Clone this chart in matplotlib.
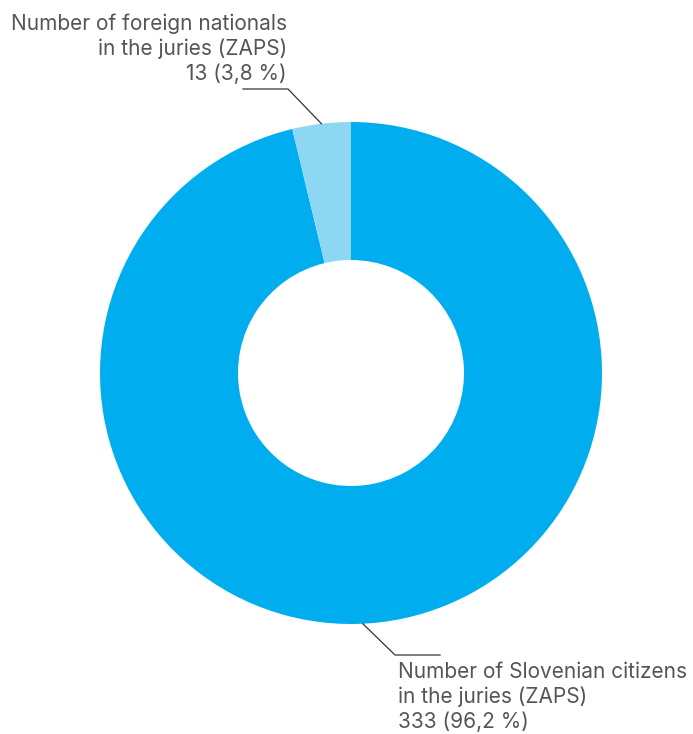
import numpy as np
import matplotlib.pyplot as plt

labels = ["Number of Slovenian citizens\nin the juries (ZAPS)",
          "Number of foreign nationals\nin the juries (ZAPS)"]
counts = [333, 13]
shares = ["96,2 %", "3,8 %"]
colors = ["#00AEEF", "#8DD7F3"]

W, H = 693, 734
fig = plt.figure(figsize=(W / 100, H / 100), dpi=100)
cx, cy, R = 351, 373, 251
ax = fig.add_axes([(cx - R) / W, (H - cy - R) / H, 2 * R / W, 2 * R / H])
ax.pie(counts, colors=colors, startangle=90, counterclock=False, radius=1,
       wedgeprops=dict(width=1 - 113 / 251, linewidth=0))
ax.set_xlim(-1, 1)
ax.set_ylim(-1, 1)
ax.set_aspect("equal")
ax.axis("off")

font = dict(family=["Inter", "DejaVu Sans"], fontsize=15.0, color="#555555",
            fontweight="normal", linespacing=1.28)
line_kw = dict(color="#333333", lw=0.9)


def px(x, y):
    return x / W, 1 - y / H


def to_fig(pt):
    return fig.transFigure.inverted().transform(ax.transData.transform(pt))


# foreign nationals: label top-left with leader line
a = np.deg2rad(90 + 360 * counts[1] / sum(counts) / 2)
xe, ye = to_fig((np.cos(a), np.sin(a)))
x0, y0 = px(243, 89)
x1, y1 = px(288, 89)
fig.add_artist(plt.Line2D([x0, x1, xe], [y0, y1, ye], transform=fig.transFigure, **line_kw))
tx, ty = px(287, 84)
fig.text(tx, ty, f"{labels[1]}\n{counts[1]} ({shares[1]})", ha="right", va="bottom", **font)

# Slovenian citizens: label bottom-right with leader line
b = np.deg2rad(-87.3)
xs, ys = to_fig((np.cos(b), np.sin(b)))
x2, y2 = px(395, 655)
x3, y3 = px(440, 655)
fig.add_artist(plt.Line2D([xs, x2, x3], [ys, y2, y3], transform=fig.transFigure, **line_kw))
tx, ty = px(398, 662)
fig.text(tx, ty, f"{labels[0]}\n{counts[0]} ({shares[0]})", ha="left", va="top", **font)

fig.savefig("out.png", dpi=100, facecolor="white")
